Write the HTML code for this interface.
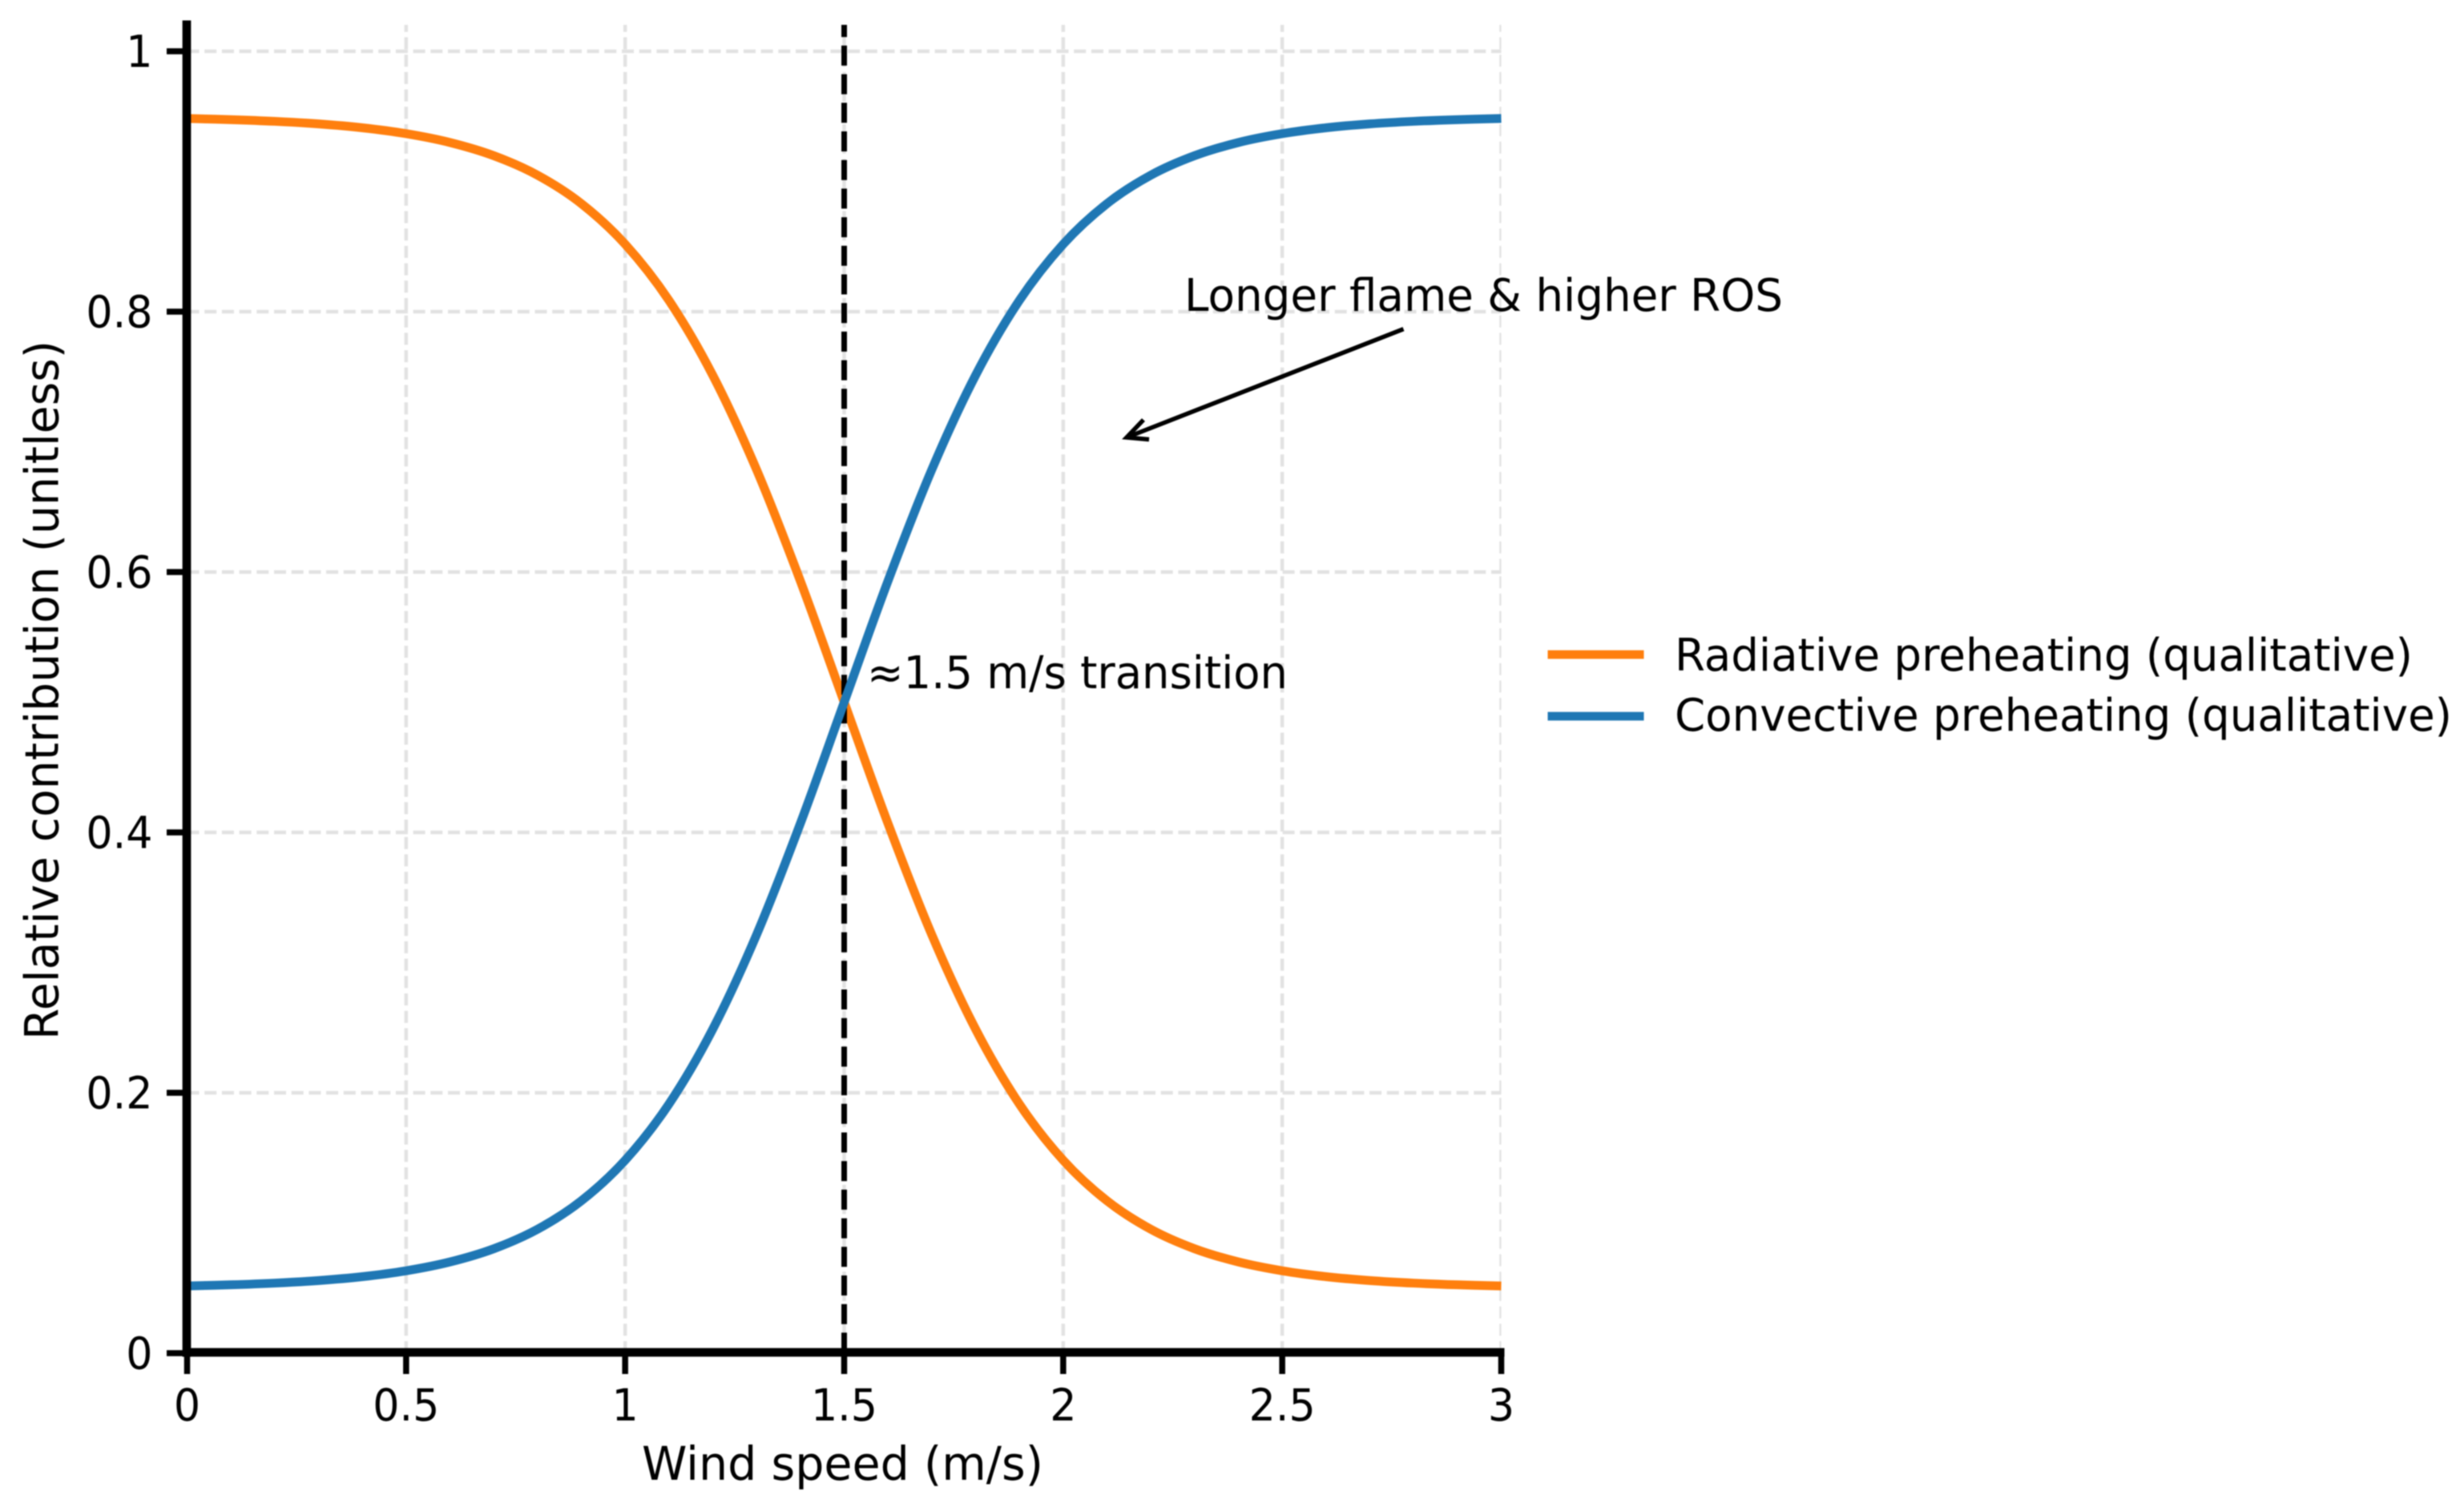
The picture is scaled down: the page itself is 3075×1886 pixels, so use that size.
<!DOCTYPE html>
<html lang="en">
<head>
<meta charset="utf-8">
<title>Radiative and convective preheating versus wind speed</title>
<style>
  html, body { margin: 0; padding: 0; background: #ffffff; }
  svg { display: block; filter: blur(0.7px); }
  text { font-family: "DejaVu Sans", "Liberation Sans", sans-serif; fill: #000000; }
</style>
</head>
<body>
<svg id="chart" xmlns="http://www.w3.org/2000/svg" width="3075" height="1886" viewBox="0 0 3075 1886">
  <rect x="0" y="0" width="3075" height="1886" fill="#ffffff"/>
  <defs>
    <clipPath id="plot-clip"><rect x="233.5" y="31" width="1640" height="1658"/></clipPath>
  </defs>
  <g id="grid-layer" clip-path="url(#plot-clip)"></g>
  <g id="series-layer"></g>
  <g id="axis-layer"></g>

  <text x="801" y="1847" font-size="58" textLength="501" lengthAdjust="spacingAndGlyphs">Wind speed (m/s)</text>
  <text transform="translate(72.5,1298) rotate(-90)" font-size="58" textLength="873" lengthAdjust="spacingAndGlyphs">Relative contribution (unitless)</text>

  <text x="1082" y="859" font-size="56" textLength="525" lengthAdjust="spacingAndGlyphs">≈1.5 m/s transition</text>
  <text x="1478" y="388" font-size="56" textLength="747" lengthAdjust="spacingAndGlyphs">Longer flame &amp; higher ROS</text>
  <g fill="none" stroke="#000000" stroke-width="5.5">
    <line x1="1751.5" y1="410.7" x2="1406" y2="546"/>
    <polyline points="1427,524 1406,546 1434,548.5"/>
  </g>

  <g>
    <g>
      <line x1="1931.5" y1="817" x2="2051.5" y2="817" stroke="#ff7f0e" stroke-width="10.7"/>
      <text x="2090" y="837" font-size="56" textLength="921" lengthAdjust="spacingAndGlyphs">Radiative preheating (qualitative)</text>
    </g>
    <g>
      <line x1="1931.5" y1="894" x2="2051.5" y2="894" stroke="#1f77b4" stroke-width="10.7"/>
      <text x="2090" y="912" font-size="56" textLength="970" lengthAdjust="spacingAndGlyphs">Convective preheating (qualitative)</text>
    </g>
  </g>
</svg>
<script>
// Chart data
const windSpeed = [0, 0.1, 0.2, 0.3, 0.4, 0.5, 0.6, 0.7, 0.8, 0.9, 1, 1.1, 1.2, 1.3, 1.4, 1.5, 1.6, 1.7, 1.8, 1.9, 2, 2.1, 2.2, 2.3, 2.4, 2.5, 2.6, 2.7, 2.8, 2.9, 3];
const radiative = [0.94835, 0.94749, 0.94619, 0.94421, 0.94122, 0.9367, 0.92992, 0.91979, 0.90482, 0.88299, 0.85181, 0.80863, 0.75111, 0.6786, 0.59313, 0.5, 0.40687, 0.3214, 0.24889, 0.19137, 0.14819, 0.11701, 0.09518, 0.08021, 0.07008, 0.0633, 0.05878, 0.05579, 0.05381, 0.05251, 0.05165];
const convective = [0.05165, 0.05251, 0.05381, 0.05579, 0.05878, 0.0633, 0.07008, 0.08021, 0.09518, 0.11701, 0.14819, 0.19137, 0.24889, 0.3214, 0.40687, 0.5, 0.59313, 0.6786, 0.75111, 0.80863, 0.85181, 0.88299, 0.90482, 0.91979, 0.92992, 0.9367, 0.94122, 0.94421, 0.94619, 0.94749, 0.94835];
const xTickValues = [0, 0.5, 1, 1.5, 2, 2.5, 3];
const yTickValues = [0, 0.2, 0.4, 0.6, 0.8, 1];
const xTickLabels = ['0', '0.5', '1', '1.5', '2', '2.5', '3'];
const yTickLabels = ['0', '0.2', '0.4', '0.6', '0.8', '1'];
const transitionSpeed = 1.5;
const xDomain = [0, 3];
const yDomain = [0, 1];

const NS = 'http://www.w3.org/2000/svg';
const plot = { left: 233.5, right: 1873.5, zero: 1689, one: 64, top: 31 };

function xScale(v) {
  return plot.left + (v - xDomain[0]) / (xDomain[1] - xDomain[0]) * (plot.right - plot.left);
}
function yScale(v) {
  return plot.zero + (v - yDomain[0]) / (yDomain[1] - yDomain[0]) * (plot.one - plot.zero);
}
function make(tag, parent, attrs) {
  const el = document.createElementNS(NS, tag);
  Object.keys(attrs).forEach(function (k) { el.setAttribute(k, attrs[k]); });
  parent.appendChild(el);
  return el;
}
function condense(label) {
  label.setAttribute('lengthAdjust', 'spacingAndGlyphs');
  label.setAttribute('textLength', (label.getComputedTextLength() * 0.95).toFixed(2));
}
function curvePath(xs, ys) {
  const pts = xs.map(function (x, i) { return [xScale(x), yScale(ys[i])]; });
  let d = 'M' + pts[0][0].toFixed(2) + ',' + pts[0][1].toFixed(2);
  for (let i = 0; i < pts.length - 1; i++) {
    const p0 = pts[Math.max(i - 1, 0)];
    const p1 = pts[i];
    const p2 = pts[i + 1];
    const p3 = pts[Math.min(i + 2, pts.length - 1)];
    const c1x = p1[0] + (p2[0] - p0[0]) / 6;
    const c1y = p1[1] + (p2[1] - p0[1]) / 6;
    const c2x = p2[0] - (p3[0] - p1[0]) / 6;
    const c2y = p2[1] - (p3[1] - p1[1]) / 6;
    d += 'C' + c1x.toFixed(2) + ',' + c1y.toFixed(2) + ' ' + c2x.toFixed(2) + ',' + c2y.toFixed(2) + ' ' + p2[0].toFixed(2) + ',' + p2[1].toFixed(2);
  }
  return d;
}

const gridLayer = document.getElementById('grid-layer');
const seriesLayer = document.getElementById('series-layer');
const axisLayer = document.getElementById('axis-layer');
const gridStyle = { stroke: '#e2e2e2', 'stroke-width': 4.5, 'stroke-dasharray': '15 6.7', fill: 'none' };

// Gridlines
xTickValues.forEach(function (v) {
  const line = make('line', gridLayer, Object.assign({ x1: xScale(v), x2: xScale(v), y1: plot.zero, y2: plot.top }, gridStyle));
  
  
});
yTickValues.forEach(function (v) {
  const line = make('line', gridLayer, Object.assign({ x1: plot.left, x2: plot.right, y1: yScale(v), y2: yScale(v) }, gridStyle));
  
  
});

// Series, with the transition marker between them
const radiativeLine = make('path', seriesLayer, { d: curvePath(windSpeed, radiative), fill: 'none', stroke: '#ff7f0e', 'stroke-width': 11 });



const transitionLine = make('line', seriesLayer, { x1: xScale(transitionSpeed), x2: xScale(transitionSpeed), y1: plot.top, y2: plot.zero, stroke: '#000000', 'stroke-width': 7, 'stroke-dasharray': '25 10.7', 'stroke-dashoffset': 9.8 });



const convectiveLine = make('path', seriesLayer, { d: curvePath(windSpeed, convective), fill: 'none', stroke: '#1f77b4', 'stroke-width': 11 });



// Ticks and tick labels
xTickValues.forEach(function (v, i) {
  const tick = make('line', axisLayer, { x1: xScale(v), x2: xScale(v), y1: plot.zero, y2: 1715, stroke: '#000000', 'stroke-width': 7.5 });
  
  
  const label = make('text', axisLayer, { x: xScale(v), y: 1773, 'font-size': 55, 'text-anchor': 'middle' });
  label.textContent = xTickLabels[i];
  
  
  condense(label);
});
yTickValues.forEach(function (v, i) {
  const tick = make('line', axisLayer, { x1: 208, x2: plot.left, y1: yScale(v), y2: yScale(v), stroke: '#000000', 'stroke-width': 7.5 });
  
  
  const label = make('text', axisLayer, { x: 190.5, y: yScale(v) + 19.5, 'font-size': 55, 'text-anchor': 'end' });
  label.textContent = yTickLabels[i];
  
  
  condense(label);
});

// Spines
const leftSpine = make('line', axisLayer, { x1: plot.left - 0.5, x2: plot.left - 0.5, y1: 25.5, y2: 1693.5, stroke: '#000000', 'stroke-width': 10.7 });



const bottomSpine = make('line', axisLayer, { x1: 228, x2: 1877.5, y1: 1688, y2: 1688, stroke: '#000000', 'stroke-width': 10.7 });


</script>
</body>
</html>
